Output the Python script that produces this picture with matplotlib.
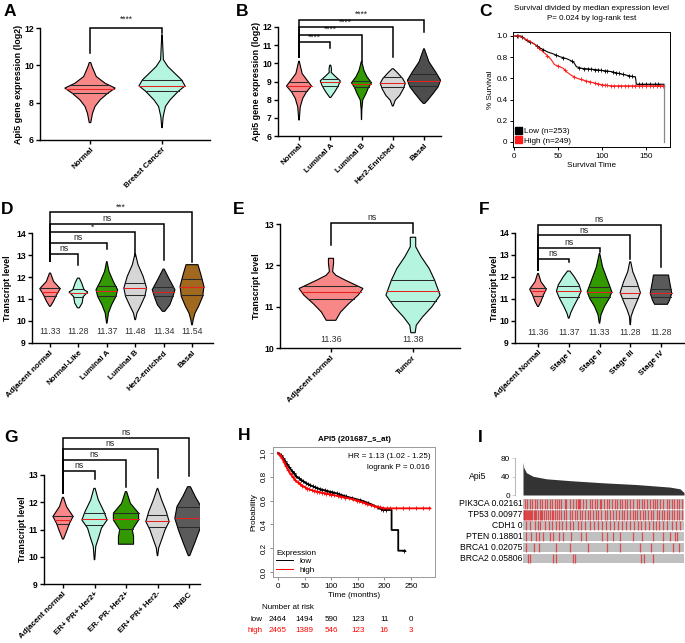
import numpy as np
import matplotlib
matplotlib.use("Agg")
import matplotlib.pyplot as plt
import matplotlib.transforms as mtrans
from matplotlib.patches import Patch
from matplotlib.lines import Line2D

plt.rcParams['font.family'] = ['Liberation Sans', 'DejaVu Sans']

# ---------------- data ----------------
# A
A_groups = ["Normal", "Breast Cancer"]
A_shape_y = [[10.15, 9.94, 9.4, 9.04, 8.78, 8.5, 8.15, 7.8, 7.43, 6.93],
             [11.64, 10.3, 9.94, 9.58, 9.22, 8.9, 8.6, 8.15, 7.8, 7.25, 6.66]]
A_shape_w = [[0.03, 0.08, 0.25, 0.6, 1.0, 0.7, 0.4, 0.2, 0.1, 0.03],
             [0.01, 0.06, 0.25, 0.55, 0.85, 1.0, 0.7, 0.35, 0.15, 0.05, 0.01]]
A_q1 = [8.5, 8.65]
A_med = [8.75, 8.9]
A_q3 = [8.93, 9.2]

# B
B_groups = ["Normal", "Luminal A", "Luminal B", "Her2-Enriched", "Basal"]
B_shape_y = [[10.12, 9.44, 9.07, 8.75, 8.43, 8.07, 7.6, 6.88],
             [9.9, 9.7, 9.5, 9.26, 9.04, 8.75, 8.43, 8.2, 8.12],
             [10.1, 9.6, 9.26, 8.93, 8.67, 8.34, 7.98, 7.43, 6.9],
             [9.7, 9.5, 9.16, 8.9, 8.6, 8.23, 7.97, 7.65],
             [10.8, 10.08, 9.53, 9.07, 8.7, 8.34, 8.0, 7.8]]
B_shape_w = [[0.02, 0.25, 0.65, 1.0, 0.6, 0.3, 0.1, 0.02],
             [0.05, 0.12, 0.1, 0.55, 1.0, 0.8, 0.45, 0.15, 0.05],
             [0.02, 0.25, 0.55, 1.0, 0.7, 0.45, 0.12, 0.03, 0.01],
             [0.05, 0.35, 0.8, 1.0, 0.85, 0.55, 0.2, 0.03],
             [0.02, 0.3, 0.7, 1.0, 0.85, 0.55, 0.25, 0.05]]
B_q1 = [8.47, 8.75, 8.7, 8.7, 8.75]
B_med = [8.75, 8.95, 8.87, 8.9, 9.05]
B_q3 = [9.0, 9.15, 9.05, 9.25, 9.4]
B_sig_start = 10.35
B_sig_to = [1, 2, 3, 4]
B_sig_level = [11.18, 11.58, 12.0, 12.4]
B_sig_drop = [10.85, 10.05, 10.35, 11.73]
B_sig_text = ["****", "****", "****", "****"]

# C
C_low_t = [0, 8, 14, 22, 30, 38, 45, 52, 60, 64, 68, 71, 77, 90, 100, 110, 120, 128, 136, 138, 139, 170]
C_low_s = [1.0, 1.0, 0.96, 0.93, 0.885, 0.85, 0.83, 0.805, 0.785, 0.77, 0.75, 0.71, 0.695, 0.685,
           0.675, 0.665, 0.645, 0.63, 0.615, 0.615, 0.545, 0.545]
C_high_t = [0, 6, 12, 18, 24, 30, 36, 42, 46, 52, 56, 60, 65, 72, 80, 90, 100, 110, 170]
C_high_s = [1.0, 1.0, 0.975, 0.95, 0.92, 0.87, 0.83, 0.78, 0.73, 0.71, 0.695, 0.66, 0.63, 0.6,
            0.58, 0.56, 0.54, 0.53, 0.53]
C_low_cens = [3, 9, 18, 26, 33, 48, 56, 66, 74, 80, 84, 88, 92, 95, 99, 103, 106, 112, 116, 119,
              124, 131, 134, 142, 146, 150, 155, 160, 164]
C_high_cens = [4, 15, 28, 38, 50, 58, 68, 76, 82, 86, 92, 96, 100, 103, 106, 110, 114, 118, 122,
               126, 130, 134, 138, 142, 146, 150, 154, 158, 162, 166, 169]
C_n = [253, 249]

# D
D_groups = ["Adjacent normal", "Normal-Like", "Luminal A", "Luminal B", "Her2-enriched", "Basal"]
D_shape_y = [[12.18, 11.8, 11.47, 11.2, 10.9, 10.67],
             [11.95, 11.73, 11.42, 11.32, 11.1, 10.82, 10.6],
             [12.7, 12.26, 11.8, 11.42, 11.12, 10.74, 10.36, 9.9],
             [13.06, 12.56, 12.03, 11.5, 11.12, 10.67, 10.36, 10.06],
             [12.36, 11.95, 11.42, 11.09, 10.74, 10.44],
             [12.56, 12.56, 12.1, 11.58, 11.12, 10.67, 10.36, 10.06, 9.83]]
D_shape_w = [[0.05, 0.35, 1.0, 0.65, 0.35, 0.05],
             [0.1, 0.35, 0.6, 1.0, 0.5, 0.4, 0.1],
             [0.02, 0.2, 0.6, 1.0, 0.85, 0.45, 0.15, 0.02],
             [0.02, 0.25, 0.7, 1.0, 0.85, 0.45, 0.15, 0.03],
             [0.05, 0.45, 1.0, 0.8, 0.55, 0.1],
             [0.0, 0.5, 0.75, 1.0, 0.9, 0.55, 0.25, 0.1, 0.03]]
D_q1 = [11.15, 11.1, 11.15, 11.2, 11.15, 11.2]
D_med = [11.33, 11.28, 11.37, 11.48, 11.34, 11.54]
D_q3 = [11.5, 11.45, 11.6, 11.75, 11.55, 11.9]
D_sig_start = 12.71
D_sig_to = [1, 2, 3, 4, 5]
D_sig_level = [13.06, 13.55, 14.03, 14.42, 14.94]
D_sig_drop = [12.56, 13.27, 12.94, 12.76, 12.67]
D_sig_text = ["ns", "ns", "*", "ns", "***"]

# E
E_groups = ["Adjacent normal", "Tumor"]
E_shape_y = [[12.17, 12.05, 11.85, 11.76, 11.64, 11.44, 11.28, 11.07, 10.87, 10.67],
             [12.68, 12.45, 12.21, 11.92, 11.64, 11.28, 11.0, 10.75, 10.55, 10.37]]
E_shape_w = [[0.08, 0.08, 0.05, 0.15, 0.45, 1.0, 0.85, 0.55, 0.3, 0.15],
             [0.1, 0.1, 0.3, 0.6, 0.8, 1.0, 0.7, 0.35, 0.12, 0.08]]
E_q1 = [11.18, 11.13]
E_med = [11.36, 11.38]
E_q3 = [11.5, 11.65]
E_sig_start = 12.49
E_sig_to = [1]
E_sig_level = [13.03]
E_sig_drop = [12.79]
E_sig_text = ["ns"]

# F
F_groups = ["Adjacent Normal", "Stage I", "Stage II", "Stage III", "Stage IV"]
F_shape_y = [[12.16, 11.79, 11.45, 11.18, 10.88, 10.66],
             [12.27, 12.01, 11.64, 11.36, 11.03, 10.66, 10.36, 10.13],
             [13.07, 12.46, 11.86, 11.33, 11.03, 10.66, 10.28, 9.9],
             [12.69, 12.24, 11.79, 11.29, 10.88, 10.5, 10.2, 9.83],
             [12.09, 12.09, 11.79, 11.26, 10.96, 10.76]]
F_shape_w = [[0.05, 0.35, 1.0, 0.65, 0.35, 0.05],
             [0.1, 0.45, 0.85, 1.0, 0.75, 0.4, 0.15, 0.03],
             [0.02, 0.25, 0.65, 1.0, 0.8, 0.4, 0.12, 0.02],
             [0.05, 0.25, 0.65, 1.0, 0.65, 0.3, 0.08, 0.02],
             [0.0, 0.7, 0.8, 1.0, 0.8, 0.6]]
F_q1 = [11.15, 11.1, 11.1, 11.05, 11.1]
F_med = [11.36, 11.37, 11.33, 11.28, 11.28]
F_q3 = [11.5, 11.6, 11.55, 11.58, 11.45]
F_sig_start = 12.31
F_sig_to = [1, 2, 3, 4]
F_sig_level = [12.84, 13.34, 13.89, 14.38]
F_sig_drop = [12.69, 13.14, 12.84, 12.46]
F_sig_text = ["ns", "ns", "ns", "ns"]

# G
G_groups = ["Adjacent normal", "ER+ PR+ Her2+", "ER- PR- Her2+", "ER+ PR+ Her2-", "TNBC"]
G_shape_y = [[12.18, 11.84, 11.48, 11.23, 10.93, 10.65],
             [12.51, 12.09, 11.66, 11.35, 11.05, 10.74, 10.38, 9.89],
             [12.39, 11.96, 11.6, 11.35, 10.99, 10.74, 10.46],
             [12.51, 12.09, 11.66, 11.29, 10.99, 10.62, 10.32, 10.04],
             [12.57, 12.2, 11.84, 11.41, 10.99, 10.5, 10.13, 10.04]]
G_shape_w = [[0.05, 0.35, 1.0, 0.65, 0.35, 0.05],
             [0.05, 0.3, 0.75, 1.0, 0.55, 0.35, 0.1, 0.02],
             [0.05, 0.35, 1.0, 1.0, 0.5, 0.6, 0.6],
             [0.02, 0.35, 0.75, 1.0, 0.65, 0.35, 0.1, 0.02],
             [0.1, 0.45, 0.85, 1.0, 0.75, 0.4, 0.12, 0.05]]
G_q1 = [11.2, 11.15, 11.02, 11.08, 11.08]
G_med = [11.36, 11.38, 11.38, 11.3, 11.42]
G_q3 = [11.48, 11.6, 11.6, 11.52, 11.82]
G_sig_start = 12.35
G_sig_to = [1, 2, 3, 4]
G_sig_level = [13.15, 13.55, 13.95, 14.34]
G_sig_drop = [12.84, 12.57, 12.88, 12.96]
G_sig_text = ["ns", "ns", "ns", "ns"]

# H
H_low_t = [0, 5, 10, 16, 22.6, 30, 35, 45, 53.8, 65, 78.9, 95, 110, 129, 145, 160, 175, 185, 198,
           213.5, 213.5, 226, 226, 238.7]
H_low_s = [1.0, 0.985, 0.955, 0.91, 0.871, 0.83, 0.80, 0.77, 0.745, 0.72, 0.697, 0.678, 0.661,
           0.633, 0.615, 0.597, 0.57, 0.549, 0.521, 0.521, 0.353, 0.353, 0.179, 0.179]
H_high_t = [0, 5, 10, 16, 22.6, 30, 35, 45, 53.8, 65, 78.9, 95, 110, 125, 141, 160, 175, 185, 201, 286]
H_high_s = [1.0, 0.975, 0.935, 0.88, 0.829, 0.785, 0.759, 0.728, 0.703, 0.685, 0.67, 0.655, 0.641,
            0.627, 0.611, 0.583, 0.562, 0.549, 0.535, 0.535]
H_low_cens = [2, 5, 9, 13, 17, 21, 26, 30, 34, 39, 43, 47, 52, 56, 61, 65, 70, 74, 79, 83, 88, 92,
              97, 101, 106, 110, 115, 119, 124, 128, 140, 155, 170, 188, 193, 197, 203, 237]
H_high_cens = [3, 7, 11, 15, 19, 24, 28, 32, 37, 41, 46, 50, 55, 59, 64, 68, 73, 77, 82, 86, 91, 95,
               100, 105, 112, 118, 126, 133, 141, 148, 152, 157, 163, 168, 175, 181, 187, 192, 198,
               204, 211, 222, 235, 247, 260, 272, 283]
H_risk_t = [0, 50, 100, 150, 200, 250]
H_risk_low = [2464, 1494, 590, 123, 11, 0]
H_risk_high = [2465, 1389, 546, 123, 16, 3]

# I
I_n = 482
I_api5_idx = [0, 2, 10, 30, 70, 140, 240, 340, 440, 470, 482]
I_api5_val = [72, 60.5, 48.7, 40.8, 35.3, 31.3, 26.6, 22.8, 17.2, 13.4, 5.4]
I_genes = ["PIK3CA 0.02161", "TP53 0.00977", "CDH1 0", "PTEN 0.18801", "BRCA1 0.02075", "BRCA2 0.05806"]
I_mut = [
    [5, 12, 20, 28, 35, 42, 50, 58, 65, 72, 80, 88, 95, 102, 108, 115, 125, 130, 140, 150, 158, 165,
     168, 172, 180, 190, 200, 208, 215, 222, 230, 235, 242, 250, 258, 265, 275, 282, 290, 295, 305,
     312, 320, 330, 340, 348, 355, 362, 370, 380, 388, 395, 402, 410, 420, 430, 438, 445, 452, 460, 468, 475],
    [2, 4, 6, 8, 11, 14, 17, 20, 24, 28, 32, 36, 40, 45, 50, 54, 58, 62, 68, 74, 80, 86, 90, 96, 102,
     108, 115, 122, 130, 140, 148, 155, 162, 170, 176, 185, 195, 202, 210, 218, 226, 235, 245, 252,
     260, 268, 278, 286, 295, 302, 312, 320, 328, 335, 342, 350, 358, 365, 375, 382, 390, 400, 408,
     415, 422, 430, 438, 445, 452, 460, 468, 476],
    [10, 20, 35, 45, 52, 65, 78, 88, 98, 108, 118, 130, 142, 150, 165, 175, 185, 200, 212, 225, 238,
     248, 260, 272, 285, 295, 308, 320, 332, 345, 352, 365, 378, 390, 398, 408, 420, 432, 445, 458, 470],
    [8, 25, 38, 48, 60, 82, 90, 108, 120, 145, 175, 190, 238, 250, 270, 290, 330, 355, 390, 420, 440, 455, 462],
    [8, 32, 48, 100, 140, 195, 252, 290, 350, 382, 420, 450, 468],
    [15, 20, 90, 98, 150, 155, 352, 362, 390],
]

# ---------------- styles ----------------
SALMON = '#f88787'
MINT = '#b5f5df'
GREEN = '#339900'
LGREY = '#d6d6d6'
DGREY = '#5a5a5a'
BROWN = '#a0691f'
BOLD = 'bold'
CATSIZE = 5.8

W, H = 685, 643
fig = plt.figure(figsize=(W / 100, H / 100), dpi=100)


def px_axes(l, r, t, b):
    return fig.add_axes([l / W, 1 - b / H, (r - l) / W, (b - t) / H])


def edge_vals(p_lo, p_hi, pa, va, pb, vb):
    k = (vb - va) / (pb - pa)
    return va + (p_lo - pa) * k, va + (p_hi - pa) * k


def violin_axes(l, r, t, b, c_first, c_last, n, pa, va, pb, vb):
    ax = px_axes(l, r, t, b)
    ax.set_xlim(*edge_vals(l, r, c_first, 0, c_last, n - 1))
    ax.set_ylim(*edge_vals(b, t, pa, va, pb, vb))
    return ax


def draw_violins(ax, sy, sw, q1, med, q3, halfw, colors):
    for i in range(len(sy)):
        ys = np.array(sy[i], float)
        ws = np.array(sw[i], float) * halfw[i]
        xs = np.concatenate([i + ws, (i - ws)[::-1]])
        yy = np.concatenate([ys, ys[::-1]])
        ax.fill(xs, yy, facecolor=colors[i], edgecolor='black', lw=0.8, zorder=2)
        for q, c in ((q1[i], '#2a2a2a'), (q3[i], '#2a2a2a'), (med[i], '#e8201f')):
            hw = np.interp(q, ys[::-1], ws[::-1])
            ax.plot([i - hw, i + hw], [q, q], color=c, lw=0.75, zorder=3)


def style_gp(ax, groups, ybounds, yticks, ylabel, ylab_px, l, r):
    for s in ('top', 'right'):
        ax.spines[s].set_visible(False)
    ax.spines['left'].set_bounds(*ybounds)
    ax.spines['left'].set_linewidth(1.0)
    ax.spines['bottom'].set_linewidth(1.0)
    ax.spines['bottom'].set_position(('data', ybounds[0]))
    ax.set_yticks(yticks)
    ax.set_yticklabels([str(v) for v in yticks], fontweight=BOLD, fontsize=6.2)
    ax.set_xticks(range(len(groups)))
    ax.set_xticklabels(groups, rotation=45, ha='right', rotation_mode='anchor',
                       fontweight=BOLD, fontsize=CATSIZE)
    ax.tick_params(length=3, width=1.0, pad=1.5)
    ax.set_ylabel(ylabel, fontweight=BOLD, fontsize=6.4)
    # label anchor is its right edge; move it so the text centre sits at ylab_px
    ax.yaxis.set_label_coords((ylab_px + 4 - l) / (r - l), 0.5 * (ybounds[0] + ybounds[1]),
                              transform=mtrans.blended_transform_factory(ax.transAxes, ax.transData))


def brackets(ax, start, to, level, drop, text, dy):
    for k, lev, d, tx in zip(to, level, drop, text):
        ax.plot([0, 0, k, k], [start, lev, lev, d], color='black', lw=1.1, clip_on=False,
                solid_joinstyle='miter', zorder=4)
        ax.text(k / 2, lev + dy, tx, ha='center', va='bottom', fontsize=6.2, color='#222222')


def med_labels(ax, med, y):
    for i, m in enumerate(med):
        ax.text(i, y, f"{m:.2f}", ha='center', va='center', fontsize=6.3, color='#333333')


def letter(x, y, s):
    fig.text(x / W, 1 - y / H, s, fontsize=12.5, fontweight='bold', ha='center', va='center')


# ---------------- A ----------------
axA = violin_axes(40, 210, 14, 140, 90, 162, 2, 28, 12, 140, 6)
draw_violins(axA, A_shape_y, A_shape_w, A_q1, A_med, A_q3, [0.35, 0.32], [SALMON, MINT])
style_gp(axA, A_groups, (6, 12), [6, 8, 10, 12], "Api5 gene expression (log2)", 19, 40, 210)
brackets(axA, 10.66, [1], [12.0], [11.73], ["****"], 0.25)
letter(10, 12, "A")

# ---------------- B ----------------
axB = violin_axes(278, 441, 10, 136, 299, 424, 5, 27, 12, 136, 6)
draw_violins(axB, B_shape_y, B_shape_w, B_q1, B_med, B_q3, [0.4, 0.32, 0.32, 0.4, 0.53],
             [SALMON, MINT, GREEN, LGREY, '#4d4d4d'])
style_gp(axB, B_groups, (6, 12), [6, 7, 8, 9, 10, 11, 12], "Api5 gene expression (log2)", 257, 278, 441)
brackets(axB, B_sig_start, B_sig_to, B_sig_level, B_sig_drop, B_sig_text, 0.03)
letter(242, 11, "B")

# ---------------- C ----------------
axC = px_axes(513, 670, 32, 147)
axC.set_xlim(*edge_vals(513, 670, 514, 0, 646, 150))
axC.set_ylim(*edge_vals(147, 32, 142, 0, 36, 1.0))
axC.plot(C_low_t, C_low_s, color='black', lw=0.8, zorder=3)
axC.plot(C_high_t, C_high_s, color='#ff1a1a', lw=0.8, zorder=3)
axC.plot(C_low_cens, np.interp(C_low_cens, C_low_t, C_low_s), '+', color='black', ms=3, mew=0.6)
axC.plot(C_high_cens, np.interp(C_high_cens, C_high_t, C_high_s), '+', color='#ff1a1a', ms=3, mew=0.6)
axC.plot([C_low_t[-1], C_low_t[-1]], [C_low_s[-1], 0], color='#888888', lw=0.9)
axC.set_xticks([0, 50, 100, 150])
axC.set_yticks([0, 0.2, 0.4, 0.6, 0.8, 1.0])
axC.set_yticklabels(["0", "0.2", "0.4", "0.6", "0.8", "1.0"])
axC.tick_params(labelsize=5.8, length=2.5, width=0.7, pad=1.5)
for s in axC.spines.values():
    s.set_linewidth(0.7)
axC.set_xlabel("Survival Time", fontsize=5.9, labelpad=2)
axC.set_ylabel("% Survival", fontsize=5.9, labelpad=2)
axC.legend([Patch(color='black'), Patch(color='#ff1a1a')],
           [f"Low (n={C_n[0]})", f"High (n={C_n[1]})"], loc='lower left', frameon=False,
           fontsize=5.9, handlelength=0.8, handleheight=0.9, handletextpad=0.3,
           labelspacing=0.15, borderaxespad=0.1, borderpad=0.2)
fig.text(592 / W, 1 - 8 / H, "Survival divided by median expression level", fontsize=5.8,
         ha='center', va='center')
fig.text(592 / W, 1 - 19 / H, "P= 0.024 by log-rank test", fontsize=5.8, ha='center', va='center')
letter(485, 12, "C")

# ---------------- D ----------------
axD = violin_axes(32, 213, 205, 343, 50, 192, 6, 233, 14, 343, 9)
draw_violins(axD, D_shape_y, D_shape_w, D_q1, D_med, D_q3, [0.36, 0.33, 0.38, 0.4, 0.4, 0.42],
             [SALMON, MINT, GREEN, LGREY, DGREY, BROWN])
style_gp(axD, D_groups, (9, 14), [9, 10, 11, 12, 13, 14], "Transcript level", 8, 32, 213)
brackets(axD, D_sig_start, D_sig_to, D_sig_level, D_sig_drop, D_sig_text, 0.03)
med_labels(axD, D_med, 9.53)
letter(7, 210, "D")

# ---------------- E ----------------
axE = violin_axes(280, 460, 212, 348, 331, 413, 2, 224, 13, 348, 10)
draw_violins(axE, E_shape_y, E_shape_w, E_q1, E_med, E_q3, [0.39, 0.33], [SALMON, MINT])
style_gp(axE, E_groups, (10, 13), [10, 11, 12, 13], "Transcript level", 257, 280, 460)
brackets(axE, E_sig_start, E_sig_to, E_sig_level, E_sig_drop, E_sig_text, 0.02)
med_labels(axE, E_med, 10.2)
letter(239, 210, "E")

# ---------------- F ----------------
axF = violin_axes(515, 685, 212, 343, 538, 661, 5, 233, 14, 343, 9)
draw_violins(axF, F_shape_y, F_shape_w, F_q1, F_med, F_q3, [0.27, 0.4, 0.4, 0.33, 0.35],
             [SALMON, MINT, GREEN, LGREY, DGREY])
style_gp(axF, F_groups, (9, 14), [9, 10, 11, 12, 13, 14], "Transcript level", 495, 515, 685)
brackets(axF, F_sig_start, F_sig_to, F_sig_level, F_sig_drop, F_sig_text, 0.04)
med_labels(axF, F_med, 9.48)
letter(484, 210, "F")

# ---------------- G ----------------
axG = violin_axes(44, 200, 428, 584, 63, 189, 5, 475, 13, 584, 9)
draw_violins(axG, G_shape_y, G_shape_w, G_q1, G_med, G_q3, [0.32, 0.4, 0.4, 0.37, 0.45],
             [SALMON, MINT, GREEN, LGREY, DGREY])
style_gp(axG, G_groups, (9, 13), [9, 10, 11, 12, 13], "Transcript level", 23, 44, 200)
brackets(axG, G_sig_start, G_sig_to, G_sig_level, G_sig_drop, G_sig_text, 0.04)
letter(11, 437, "G")

# ---------------- H ----------------
axH = px_axes(273, 435, 447, 577)
axH.set_xlim(*edge_vals(273, 435, 278, 0, 411, 250))
axH.set_ylim(*edge_vals(577, 447, 572, 0, 453, 1.0))
axH.plot(H_low_t, H_low_s, color='black', lw=1.3, zorder=3)
axH.plot(H_high_t, H_high_s, color='red', lw=1.3, zorder=4)
axH.plot(H_low_cens, np.interp(H_low_cens, H_low_t, H_low_s), '+', color='black', ms=2.8, mew=0.6)
axH.plot(H_high_cens, np.interp(H_high_cens, H_high_t, H_high_s), '+', color='red', ms=2.8, mew=0.6,
         zorder=5)
axH.set_xticks(H_risk_t)
axH.set_yticks([0, 0.2, 0.4, 0.6, 0.8, 1.0])
axH.set_yticklabels(["0.0", "0.2", "0.4", "0.6", "0.8", "1.0"], rotation=90, va='center')
axH.tick_params(labelsize=5.8, length=2.5, width=0.6, color='#777777', pad=1.5)
for s in axH.spines.values():
    s.set_color('#999999')
    s.set_linewidth(0.7)
axH.set_xlabel("Time (months)", fontsize=5.9, labelpad=2)
axH.set_ylabel("Probability", fontsize=5.9, labelpad=2)
axH.set_title("API5 (201687_s_at)", fontsize=5.8, fontweight='bold', pad=4)
axH.text(0.97, 0.93, "HR = 1.13 (1.02 - 1.25)", transform=axH.transAxes, ha='right', va='center',
         fontsize=5.8)
axH.text(0.97, 0.845, "logrank P = 0.016", transform=axH.transAxes, ha='right', va='center',
         fontsize=5.8)
axH.legend([Line2D([], [], color='black', lw=0.7), Line2D([], [], color='red', lw=0.7)],
           ["low", "high"], title="Expression", loc='lower left', frameon=False, fontsize=5.9,
           title_fontsize=5.9, handlelength=2.0, labelspacing=0.1, borderaxespad=0.2,
           borderpad=0.2, alignment='left')
tr = mtrans.blended_transform_factory(axH.transData, axH.transAxes)
axH.text(-30, -0.238, "Number at risk", transform=tr, fontsize=5.8, va='center', ha='left')
axH.text(-30, -0.33, "low", transform=tr, fontsize=5.8, va='center', ha='right')
axH.text(-30, -0.415, "high", transform=tr, fontsize=5.8, va='center', ha='right', color='red')
for t, lo, hi in zip(H_risk_t, H_risk_low, H_risk_high):
    axH.text(t, -0.33, str(lo), transform=tr, fontsize=5.8, va='center', ha='center')
    axH.text(t, -0.415, str(hi), transform=tr, fontsize=5.8, va='center', ha='center', color='red')
letter(244, 436, "H")

# ---------------- I ----------------
axI = px_axes(515, 686, 456, 495)
axI.set_xlim(*edge_vals(515, 686, 523, 0, 684, I_n))
axI.set_ylim(0, 85)
axI.fill_between(I_api5_idx, I_api5_val, 0, color='#333333', lw=0)
for s in ('top', 'right', 'bottom'):
    axI.spines[s].set_visible(False)
axI.spines['left'].set_color('#bbbbbb')
axI.spines['left'].set_bounds(0, 80)
axI.set_xticks([])
axI.set_yticks([0, 40, 80])
axI.tick_params(labelsize=5.9, length=2, width=0.5, color='#bbbbbb', pad=1.5)
axI.text((478 - 515) / (686 - 515), 40, "Api5", transform=mtrans.blended_transform_factory(
    axI.transAxes, axI.transData), ha='center', va='center', fontsize=6.2)

axM = px_axes(523, 684, 498.5, 564)
axM.set_xlim(0, I_n)
axM.set_ylim(len(I_genes) - 0.5, -0.5)
axM.axis('off')
for r, (g, pos) in enumerate(zip(I_genes, I_mut)):
    axM.barh(r, I_n, left=0, height=0.86, color='#c0c0c0', lw=0)
    axM.vlines(pos, r - 0.43, r + 0.43, color='#e3262a', lw=0.9, alpha=0.75)
    axM.text(-1.5, r, g, ha='right', va='center', fontsize=6.2)
letter(480, 437, "I")

fig.savefig("out.png", dpi=100)
